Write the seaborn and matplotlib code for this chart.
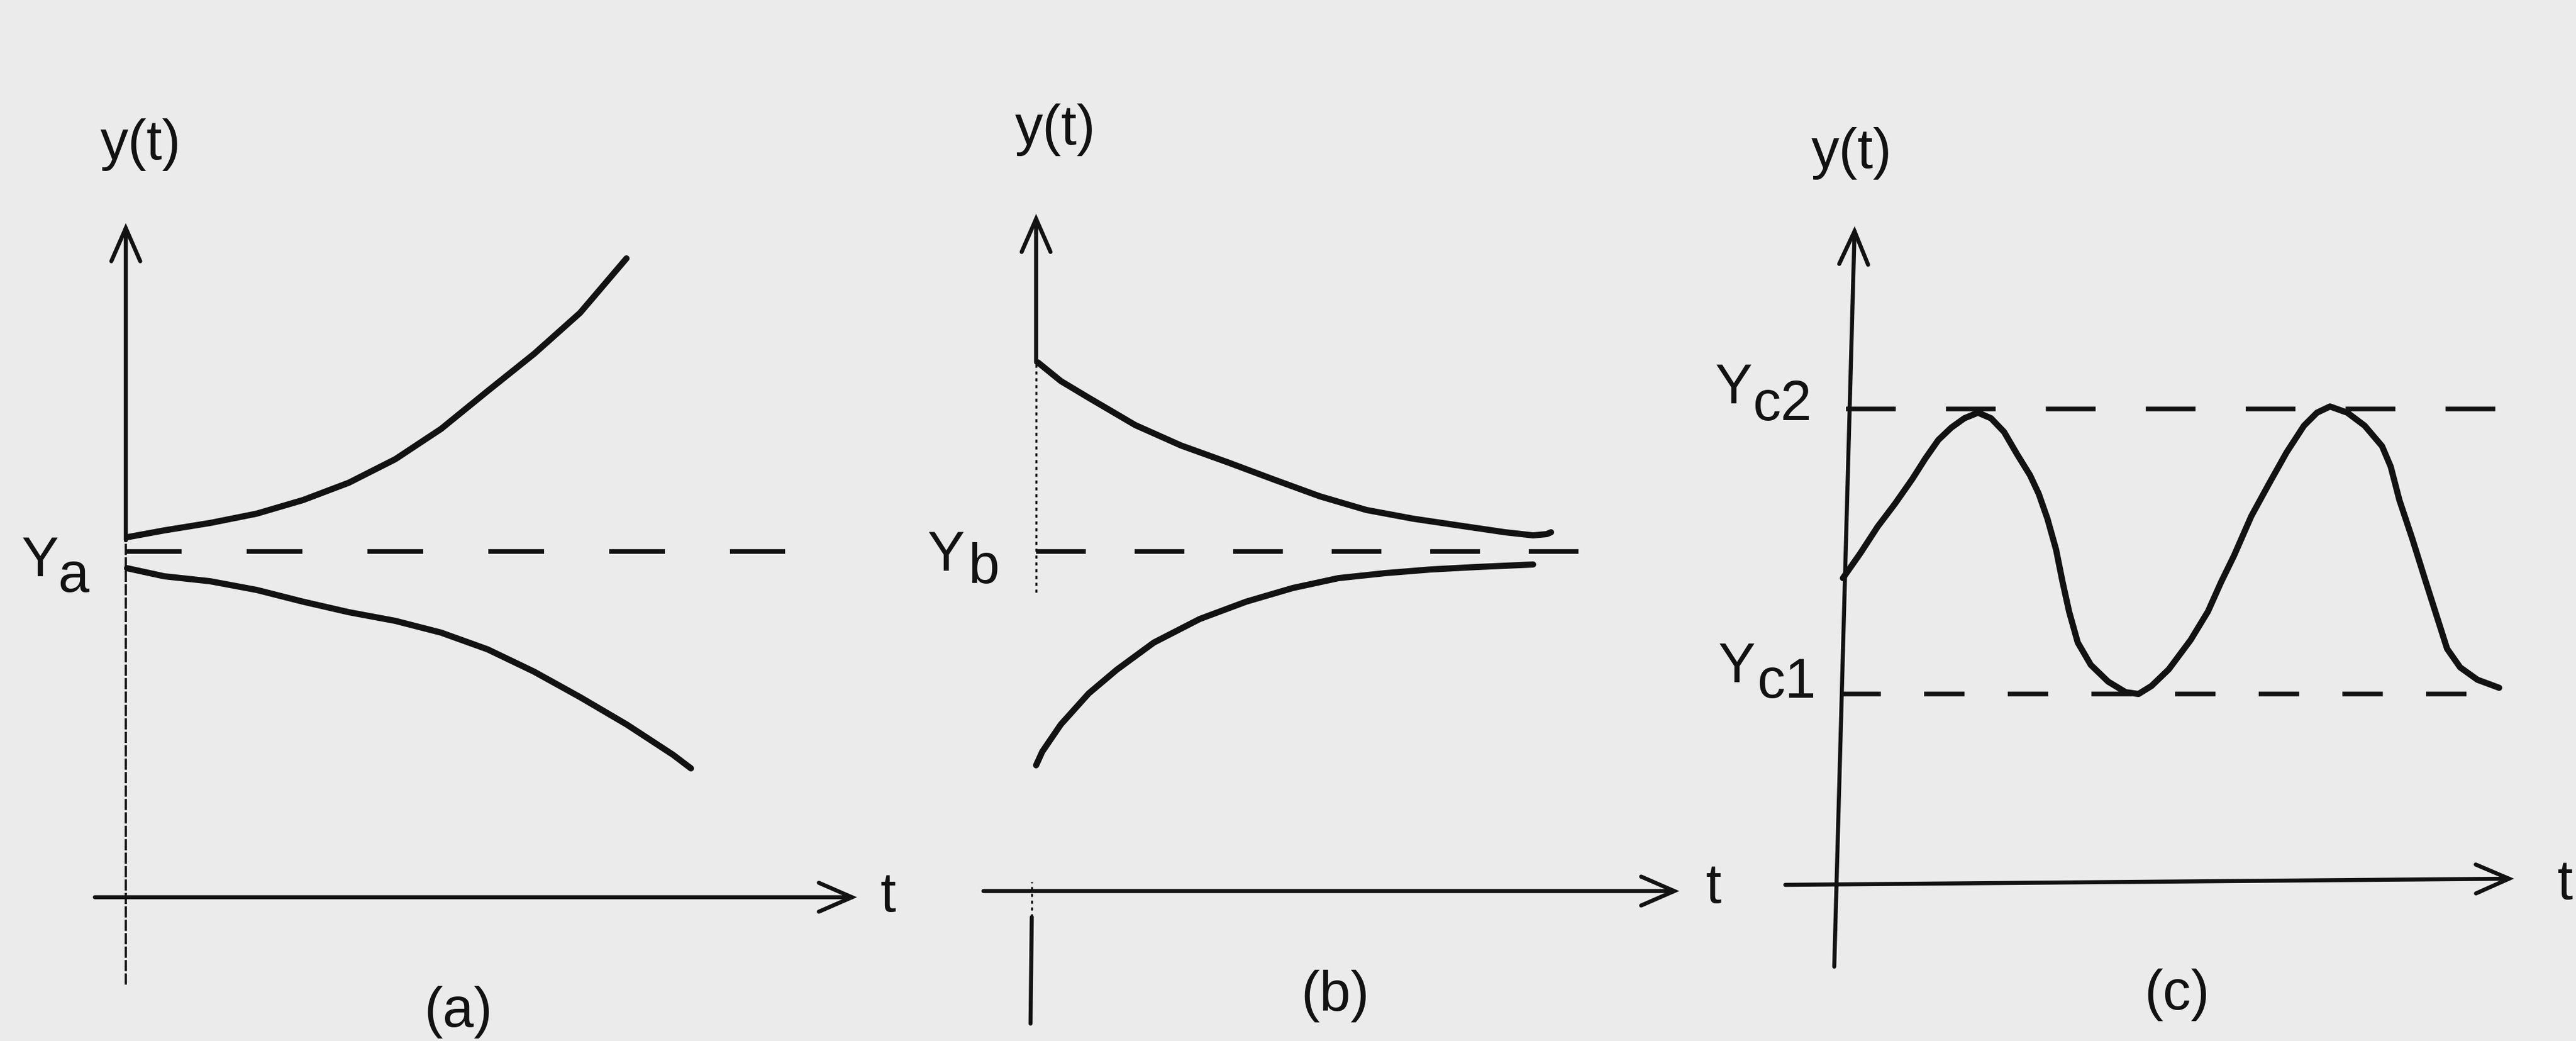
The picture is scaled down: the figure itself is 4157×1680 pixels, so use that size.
import matplotlib
matplotlib.use("Agg")
import matplotlib.pyplot as plt
import pandas as pd
import seaborn as sns

# ---- (a) unstable equilibrium: paths move away from Y_a ----
Y_A = 5.58
A_T_UP = [0.02, 0.62, 1.36, 2.11, 2.86, 3.60, 4.35, 5.09, 5.84, 6.59, 7.33, 8.08]
A_Y_UP = [5.81, 5.92, 6.04, 6.19, 6.41, 6.69, 7.07, 7.56, 8.17, 8.77, 9.43, 10.31]
A_T_LO = [0.02, 0.62, 1.36, 2.11, 2.86, 3.60, 4.35, 5.09, 5.84, 6.59, 7.33, 8.08,
          8.83, 9.12]
A_Y_LO = [5.31, 5.18, 5.10, 4.96, 4.77, 4.60, 4.46, 4.27, 4.00, 3.64, 3.23, 2.79,
          2.30, 2.08]

# ---- (b) stable equilibrium: paths converge to Y_b ----
Y_B = 5.48
B_T_UP = [0.03, 0.40, 0.85, 1.60, 2.34, 3.09, 3.84, 4.58, 5.33, 6.08, 6.82, 7.57,
          8.02, 8.24, 8.31]
B_Y_UP = [8.53, 8.23, 7.96, 7.52, 7.19, 6.92, 6.64, 6.37, 6.15, 6.01, 5.90, 5.79,
          5.74, 5.76, 5.79]
B_T_LO = [0.0, 0.10, 0.40, 0.85, 1.30, 1.90, 2.64, 3.39, 4.14, 4.88, 5.63, 6.37,
          7.12, 8.02]
B_Y_LO = [2.03, 2.25, 2.69, 3.19, 3.57, 4.01, 4.39, 4.67, 4.89, 5.05, 5.13, 5.19,
          5.23, 5.27]

# ---- (c) cycle between the bounds Y_c1 and Y_c2 ----
Y_C1 = 3.08
Y_C2 = 7.68
C_T = [0.10, 0.38, 0.66, 0.94, 1.22, 1.43, 1.64, 1.85, 2.06, 2.28, 2.49, 2.70,
       2.91, 3.12, 3.26, 3.40, 3.54, 3.64, 3.75, 3.89, 4.10, 4.38, 4.66, 4.87,
       5.08, 5.36, 5.71, 5.99, 6.20, 6.41, 6.69, 6.98, 7.26, 7.54, 7.75, 7.96,
       8.24, 8.52, 8.80, 8.94, 9.08, 9.29, 9.50, 9.71, 9.85, 10.06, 10.34, 10.69]
C_Y = [4.95, 5.35, 5.78, 6.15, 6.55, 6.88, 7.18, 7.38, 7.53, 7.62, 7.53, 7.31,
       6.95, 6.61, 6.31, 5.91, 5.41, 4.91, 4.41, 3.91, 3.55, 3.28, 3.11, 3.08,
       3.21, 3.48, 3.95, 4.41, 4.88, 5.31, 5.95, 6.48, 6.98, 7.41, 7.62, 7.72,
       7.62, 7.41, 7.08, 6.75, 6.21, 5.58, 4.91, 4.25, 3.81, 3.51, 3.31, 3.18]

PANEL_TAGS = ["(a)", "(b)", "(c)"]
Y_LABEL = "y(t)"
T_LABEL = "t"

sns.set_theme(style="white")
plt.rcParams["font.family"] = ["Liberation Sans", "DejaVu Sans"]

W, H = 4157, 1680
PAPER = "#ebebeb"
INK = "#121212"
FS = 65
AX_LW = 4.7
CURVE_LW = 7.2
DASH_LW = 5.4

fig = plt.figure(figsize=(W / 100, H / 100), dpi=100, facecolor=PAPER)


def panel(px0, px1, ox, oy):
    """Axes with one data unit per 100 px, origin at the drawn axis cross."""
    ax = fig.add_axes([px0 / W, 0, (px1 - px0) / W, 1])
    ax.set_xlim((px0 - ox) / 100, (px1 - ox) / 100)
    ax.set_ylim((oy - H) / 100, oy / 100)
    ax.set_axis_off()
    return ax


def arrow(ax, start, end):
    ax.annotate("", xy=end, xytext=start, annotation_clip=False,
                arrowprops=dict(arrowstyle="->,head_length=0.55,head_width=0.24",
                                lw=AX_LW, color=INK, shrinkA=0, shrinkB=0,
                                mutation_scale=70, capstyle="round",
                                joinstyle="miter"))


def curve(ax, t, y):
    df = pd.DataFrame({"t": t, "y": y})
    sns.lineplot(data=df, x="t", y="y", ax=ax, color=INK, lw=CURVE_LW,
                 sort=False, estimator=None, solid_capstyle="round",
                 solid_joinstyle="round")
    ax.set_axis_off()


def level(ax, y, t0, t1, dashes):
    ax.plot([t0, t1], [y, y], color=INK, lw=DASH_LW, dashes=dashes,
            dash_capstyle="butt")


def sublabel(ax, t, y, main, sub, dt, dy):
    ax.text(t, y, main, fontsize=FS, color=INK, ha="left", va="baseline")
    ax.text(t + dt, y + dy, sub, fontsize=FS, color=INK, ha="left", va="baseline")


# ---------------- panel (a) ----------------
ax = panel(0, 1480, 203, 1448)
ax.plot([0, 0], [-1.41, 5.76], color=INK, lw=2.6, dashes=(5, 1.0))
arrow(ax, (0, 5.76), (0, 10.88))
arrow(ax, (-0.5, 0), (11.8, 0))
level(ax, Y_A, 0, 10.64, (12, 14))
curve(ax, A_T_UP, A_Y_UP)
curve(ax, A_T_LO, A_Y_LO)
ax.text(0.24, 12.15, Y_LABEL, fontsize=FS, color=INK, ha="center", va="center")
ax.text(12.3, 0.0, T_LABEL, fontsize=FS, color=INK, ha="center", va="center")
sublabel(ax, -1.69, 5.18, "Y", "a", 0.59, -0.25)
ax.text(5.37, -1.85, PANEL_TAGS[0], fontsize=FS, color=INK, ha="center", va="center")

# ---------------- panel (b) ----------------
ax = panel(1440, 2800, 1672, 1438)
arrow(ax, (0, 8.53), (0, 10.93))
ax.plot([0, 0], [4.82, 8.53], color=INK, lw=2.4, dashes=(1.5, 1.8))
ax.plot([-0.07, -0.07], [-0.42, 0.15], color=INK, lw=2.4, dashes=(1.5, 1.8))
ax.plot([-0.07, -0.09], [-0.42, -2.14], color=INK, lw=AX_LW)
arrow(ax, (-0.85, 0), (10.38, 0))
level(ax, Y_B, 0, 9.10, (10.7, 10.5))
curve(ax, B_T_UP, B_Y_UP)
curve(ax, B_T_LO, B_Y_LO)
ax.text(0.31, 12.29, Y_LABEL, fontsize=FS, color=INK, ha="center", va="center")
ax.text(10.93, 0.05, T_LABEL, fontsize=FS, color=INK, ha="center", va="center")
sublabel(ax, -1.76, 5.17, "Y", "b", 0.66, -0.19)
ax.text(4.83, -1.70, PANEL_TAGS[1], fontsize=FS, color=INK, ha="center", va="center")

# ---------------- panel (c) ----------------
ax = panel(2720, 4157, 2964, 1428)
arrow(ax, (-0.04, -1.32), (0.29, 10.63))
arrow(ax, (-0.83, 0), (10.93, 0.10))
level(ax, Y_C2, 0.15, 10.65, (10.7, 10.8))
level(ax, Y_C1, 0.06, 10.19, (8.7, 9.3))
curve(ax, C_T, C_Y)
ax.text(0.24, 11.8, Y_LABEL, fontsize=FS, color=INK, ha="center", va="center")
ax.text(11.75, 0.0, T_LABEL, fontsize=FS, color=INK, ha="center", va="center")
sublabel(ax, -1.97, 7.77, "Y", "c2", 0.61, -0.27)
sublabel(ax, -1.92, 3.27, "Y", "c1", 0.63, -0.25)
ax.text(5.49, -1.78, PANEL_TAGS[2], fontsize=FS, color=INK, ha="center", va="center")

fig.savefig("out.png", dpi=100, facecolor=PAPER)
